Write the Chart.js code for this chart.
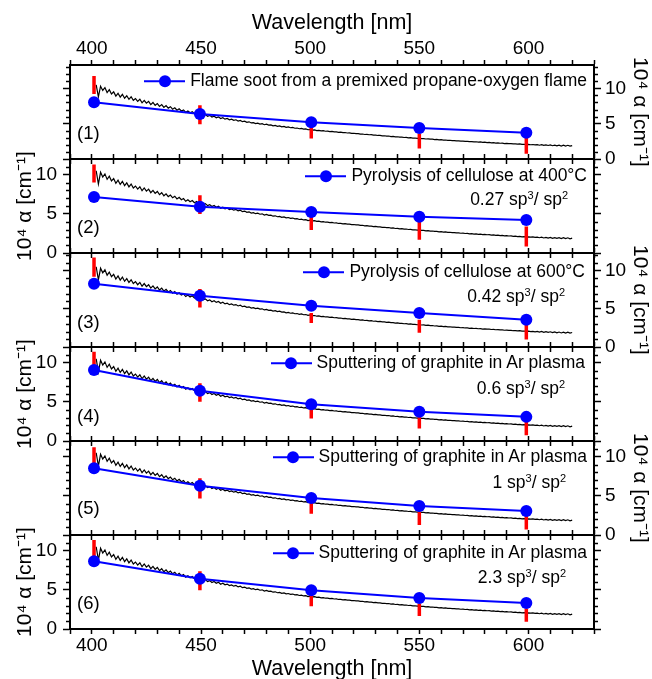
<!DOCTYPE html>
<html>
<head>
<meta charset="utf-8">
<script src="https://cdn.jsdelivr.net/npm/chart.js@4.4.0/dist/chart.umd.min.js"></script>
<style>
  body { margin: 0; background: #fff; }
  #wrap { position: relative; width: 652px; height: 679px; overflow: hidden; font-family: "Liberation Sans", Arial, sans-serif; color: #000; }
  #wrap canvas { position: absolute; left: 0; }
  .leg { position: absolute; display: flex; align-items: center; transform: translateY(-50%); font-size: 17.5px; line-height: 1; white-space: nowrap; z-index: 5; }
  .mk { position: relative; flex: none; width: 41px; height: 2px; background: #0000ff; margin-right: 5px; }
  .mk::after { content: ''; position: absolute; left: 14.5px; top: -5px; width: 12px; height: 12px; border-radius: 50%; background: #0000ff; }
  .ratio { position: absolute; transform: translateY(-50%); font-size: 17.5px; line-height: 1; white-space: nowrap; z-index: 5; }
  .ratio sup { font-size: 11px; vertical-align: 0.55em; line-height: 0; }
  .num { position: absolute; left: 77px; transform: translateY(-50%); font-size: 18.5px; line-height: 1; z-index: 5; }
</style>
</head>
<body>
<div id="wrap">
  <div class="leg" style="top:81px;right:65px"><span class="mk"></span>Flame soot from a premixed propane-oxygen flame</div>
  <div class="leg" style="top:176px;right:65px"><span class="mk"></span>Pyrolysis of cellulose at 400°C</div>
  <div class="leg" style="top:272px;right:67px"><span class="mk"></span>Pyrolysis of cellulose at 600°C</div>
  <div class="leg" style="top:363px;right:67px"><span class="mk"></span>Sputtering of graphite in Ar plasma</div>
  <div class="leg" style="top:457px;right:65px"><span class="mk"></span>Sputtering of graphite in Ar plasma</div>
  <div class="leg" style="top:553px;right:65px"><span class="mk"></span>Sputtering of graphite in Ar plasma</div>

  <div class="ratio" style="top:200px;right:84px">0.27 sp<sup>3</sup>/ sp<sup>2</sup></div>
  <div class="ratio" style="top:297px;right:87px">0.42 sp<sup>3</sup>/ sp<sup>2</sup></div>
  <div class="ratio" style="top:389px;right:87px">0.6 sp<sup>3</sup>/ sp<sup>2</sup></div>
  <div class="ratio" style="top:483px;right:86px">1 sp<sup>3</sup>/ sp<sup>2</sup></div>
  <div class="ratio" style="top:578px;right:86px">2.3 sp<sup>3</sup>/ sp<sup>2</sup></div>

  <div class="num" style="top:133px">(1)</div>
  <div class="num" style="top:227px">(2)</div>
  <div class="num" style="top:322px">(3)</div>
  <div class="num" style="top:416px">(4)</div>
  <div class="num" style="top:508px">(5)</div>
  <div class="num" style="top:603px">(6)</div>
</div>

<script>
// axis ticks
const xTickValues = [390, 400, 410, 420, 430, 440, 450, 460, 470, 480, 490, 500, 510, 520, 530, 540, 550, 560, 570, 580, 590, 600, 610, 620, 630];
const xLabelValues = [400, 450, 500, 550, 600];
const yMajorTicks = [0, 5, 10];
const yMinorTicks = [1, 2, 3, 4, 6, 7, 8, 9, 11, 12, 13];
const yMaxes = [13.3, 12, 12.3, 12, 12, 12];

// measured points (nm)
const sampleWavelengths = [401, 449.5, 500.5, 550, 599];

// transmission spectrum, 1 nm step starting at 402 nm
const spectrumStart = 402;
const spectrum = [
  10.5, 8.8, 10.3, 9.7, 10.1, 9.4, 9.8, 9.2, 9.5, 8.9,
  9.3, 8.75, 9.15, 8.6, 8.95, 8.45, 8.8, 8.3, 8.55, 8.15,
  8.45, 7.95, 8.3, 7.9, 8.15, 7.7, 8.0, 7.6, 7.85, 7.45,
  7.7, 7.3, 7.55, 7.2, 7.4, 7.05, 7.25, 6.9, 7.1, 6.8,
  6.95, 6.6, 6.8, 6.55, 6.7, 6.42, 6.58, 6.3, 6.45, 6.18,
  6.3, 6.05, 6.17, 5.93, 6.06, 5.84, 5.96, 5.72, 5.85, 5.64,
  5.73, 5.54, 5.63, 5.47, 5.55, 5.37, 5.46, 5.28, 5.35, 5.19,
  5.26, 5.1, 5.15, 5.02, 5.08, 4.95, 5.0, 4.85, 4.92, 4.8,
  4.83, 4.7, 4.75, 4.63, 4.68, 4.56, 4.6, 4.48, 4.53, 4.42,
  4.46, 4.35, 4.38, 4.28, 4.33, 4.22, 4.25, 4.14, 4.19, 4.1,
  4.12, 4.03, 4.06, 3.98, 4.01, 3.93, 3.95, 3.87, 3.9, 3.83,
  3.84, 3.77, 3.79, 3.72, 3.75, 3.68, 3.69, 3.62, 3.64, 3.58,
  3.59, 3.52, 3.54, 3.47, 3.49, 3.43, 3.44, 3.37, 3.39, 3.33,
  3.34, 3.28, 3.29, 3.23, 3.25, 3.18, 3.2, 3.13, 3.15, 3.09,
  3.1, 3.04, 3.06, 3.0, 3.02, 2.96, 2.97, 2.91, 2.94, 2.88,
  2.89, 2.83, 2.85, 2.8, 2.81, 2.75, 2.77, 2.71, 2.73, 2.67,
  2.69, 2.63, 2.65, 2.6, 2.61, 2.56, 2.57, 2.52, 2.54, 2.49,
  2.5, 2.45, 2.47, 2.42, 2.44, 2.39, 2.41, 2.35, 2.38, 2.33,
  2.34, 2.29, 2.31, 2.26, 2.28, 2.23, 2.25, 2.19, 2.22, 2.17,
  2.18, 2.13, 2.15, 2.1, 2.13, 2.07, 2.09, 2.04, 2.07, 2.02,
  2.05, 1.99, 2.03, 1.95, 2.03, 1.92, 2.0, 1.91, 1.99, 1.88,
  1.97, 1.86, 1.96, 1.84, 1.95, 1.83, 1.94, 1.82, 1.9
];

// blue points, 10^4 alpha
const alphaP1 = [8.04, 6.37, 5.19, 4.37, 3.71];
const alphaP2 = [7.16, 5.9, 5.23, 4.63, 4.22];
const alphaP3 = [8.27, 6.7, 5.4, 4.45, 3.58];
const alphaP4 = [9.06, 6.41, 4.7, 3.72, 3.08];
const alphaP5 = [8.52, 6.28, 4.73, 3.7, 3.06];
const alphaP6 = [8.65, 6.41, 4.94, 3.96, 3.33];

// red bars, low / high
const barLowP1 = [9.19, 4.9, 2.9, 1.47, 0.76];
const barHighP1 = [11.76, 7.61, 4.47, 3.61, 3.33];
const barLowP2 = [8.99, 4.97, 2.95, 1.68, 0.84];
const barHighP2 = [11.3, 7.38, 4.63, 4.63, 3.37];
const barLowP3 = [9.2, 5.18, 3.15, 1.85, 0.98];
const barHighP3 = [11.7, 7.58, 4.45, 3.58, 3.15];
const barLowP4 = [9.28, 5.0, 2.87, 1.59, 0.73];
const barHighP4 = [11.4, 7.36, 4.58, 3.08, 2.44];
const barLowP5 = [8.95, 4.65, 2.71, 1.29, 0.7];
const barHighP5 = [11.19, 7.23, 4.22, 2.93, 2.71];
const barLowP6 = [9.15, 4.94, 2.91, 1.65, 0.92];
const barHighP6 = [11.35, 7.38, 4.3, 3.25, 2.62];

const alphas = [alphaP1, alphaP2, alphaP3, alphaP4, alphaP5, alphaP6];
const barLows = [barLowP1, barLowP2, barLowP3, barLowP4, barLowP5, barLowP6];
const barHighs = [barHighP1, barHighP2, barHighP3, barHighP4, barHighP5, barHighP6];

// layout
const W = 652;
const PLOT_TOP = 65, PANEL_H = 94;
const LEFT_W = 70, RIGHT_W = 58;
const TOP_AXIS_H = 65, BOTTOM_AXIS_H = 50, GAP = 10;
const yTitle = '10\u2074 \u03b1 [cm\u207b\u00b9]';

Chart.defaults.font.family = "'Liberation Sans', Arial, sans-serif";
Chart.defaults.color = '#000';

const minorTicks = {
  id: 'minorTicks',
  afterDraw(chart) {
    const { ctx, chartArea: a } = chart;
    const y = chart.scales.y;
    ctx.save();
    ctx.strokeStyle = '#000';
    ctx.lineWidth = 1.5;
    ctx.beginPath();
    yMinorTicks.forEach(v => {
      if (v >= y.max) return;
      const p = Math.round(y.getPixelForValue(v)) + 0.5;
      ctx.moveTo(a.left - 4, p); ctx.lineTo(a.left, p);
      ctx.moveTo(a.right, p); ctx.lineTo(a.right + 4, p);
    });
    ctx.stroke();
    ctx.restore();
  }
};

function xAxis(position, showLabels, height) {
  return {
    type: 'linear', position, min: 390, max: 630, offset: false,
    afterBuildTicks: s => { s.ticks = xTickValues.map(v => ({ value: v })); },
    afterFit: s => { s.height = height; s.paddingLeft = 0; s.paddingRight = 0; },
    grid: { drawOnChartArea: false, tickLength: 5, tickWidth: 1.5, tickColor: '#000' },
    border: { color: '#000', width: 2 },
    ticks: { display: showLabels, padding: 0, autoSkip: false, maxRotation: 0, font: { size: 19 },
      callback: v => xLabelValues.includes(v) ? String(v) : '' },
    title: { display: showLabels, text: 'Wavelength [nm]', font: { size: 21.5 },
      padding: position === 'top' ? { top: 10, bottom: 0 } : { top: 0, bottom: -3 } }
  };
}

function yAxis(position, max, showLabels, width) {
  return {
    type: 'linear', position, min: 0, max,
    afterBuildTicks: s => { s.ticks = yMajorTicks.map(v => ({ value: v })); },
    afterFit: s => { s.width = width; s.paddingTop = 0; s.paddingBottom = 0; },
    grid: { drawOnChartArea: false, tickLength: 7, tickWidth: 1.5, tickColor: '#000' },
    border: { color: '#000', width: 2 },
    ticks: { display: showLabels, padding: position === 'left' ? 6 : 4, font: { size: 19 } },
    title: { display: showLabels, text: yTitle, font: { size: 21 },
      padding: position === 'left' ? { top: 13, bottom: 0 } : { top: 0, bottom: 0 } }
  };
}

function drawPanel(i) {
  const first = i === 0, last = i === 5;
  const topPad = first ? TOP_AXIS_H : GAP;
  const bottomPad = last ? BOTTOM_AXIS_H : GAP;
  const canvas = document.createElement('canvas');
  canvas.width = W;
  canvas.height = topPad + PANEL_H + bottomPad;
  canvas.style.top = (PLOT_TOP + i * PANEL_H - topPad) + 'px';
  document.getElementById('wrap').appendChild(canvas);

  const leftLabels = i % 2 === 1;
  const spectrumPts = spectrum.map((v, k) => ({ x: spectrumStart + k, y: v }));
  const bluePts = sampleWavelengths.map((x, k) => ({ x, y: alphas[i][k] }));
  const redPts = [];
  sampleWavelengths.forEach((x, k) => {
    redPts.push({ x, y: barLows[i][k] }, { x, y: barHighs[i][k] }, { x, y: null });
  });

  new Chart(canvas, {
    type: 'line',
    data: {
      datasets: [
        { data: bluePts, borderColor: '#0000ff', backgroundColor: '#0000ff', borderWidth: 2,
          pointRadius: 6, pointBorderWidth: 0, order: 1 },
        { data: redPts, borderColor: '#ff0000', borderWidth: 3.5, borderCapStyle: 'butt',
          pointRadius: 0, spanGaps: false, order: 2 },
        { data: spectrumPts, borderColor: '#000', borderWidth: 1.2, pointRadius: 0, order: 3 }
      ]
    },
    options: {
      responsive: false, animation: false, events: [],
      layout: { padding: 0 },
      plugins: { legend: { display: false }, tooltip: { enabled: false } },
      scales: {
        x: xAxis('bottom', last, bottomPad),
        xTop: xAxis('top', first, topPad),
        y: yAxis('left', yMaxes[i], leftLabels, LEFT_W),
        yR: yAxis('right', yMaxes[i], !leftLabels, RIGHT_W)
      }
    },
    plugins: [minorTicks]
  });
}

for (let i = 0; i < 6; i++) drawPanel(i);
</script>
</body>
</html>
